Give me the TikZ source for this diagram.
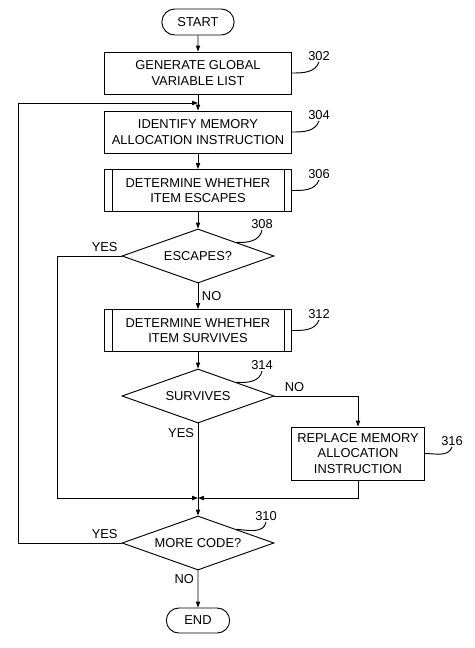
\documentclass[tikz,border=0pt]{standalone}
\usepackage{fontspec}
\setmainfont{Liberation Sans}
\usetikzlibrary{shapes.geometric, shapes.misc, arrows.meta, positioning}
\newcommand{\chartfont}{\fontsize{11}{13.3}\selectfont}
\tikzset{
  % Box styles
  termbox/.style={rounded rectangle, draw, line width=0.8pt, minimum width=2.31cm, minimum height=0.78cm, inner sep=2pt, font=\chartfont},
  procbox/.style={rectangle, draw, line width=0.8pt, minimum width=5.61cm, minimum height=1.26cm, inner sep=2pt, align=center, font=\chartfont},
  subbox/.style={procbox},
  decision/.style={diamond, draw, line width=0.8pt, minimum width=4.56cm, minimum height=1.62cm, aspect=2.8, inner sep=1pt, font=\chartfont},
  % Label styles
  refnum/.style={inner sep=1pt, font=\chartfont},
  flowlabel/.style={inner sep=3pt, font=\chartfont},
  % Arrow styles
  arrow/.style={-{Triangle[length=5pt, width=3.6pt]}, line width=0.8pt},
  line/.style={line width=0.8pt},
  leader/.style={line width=0.8pt}
}

\begin{document}
\begin{tikzpicture}[x=0.03cm, y=-0.03cm]
  \useasboundingbox (0,0) rectangle (474,648);

  % Main column
  \node[termbox] (start) at (198,22) {START};
  \node[procbox] (gen) at (198,73) {GENERATE GLOBAL\\VARIABLE LIST};
  \node[procbox] (ident) at (198,132) {IDENTIFY MEMORY\\ALLOCATION INSTRUCTION};
  \node[subbox] (esc) at (198,190.5) {DETERMINE WHETHER\\ITEM ESCAPES};
  \node[decision] (escq) at (198,256) {ESCAPES?};
  \node[subbox] (surv) at (198,330.5) {DETERMINE WHETHER\\ITEM SURVIVES};
  \node[decision] (survq) at (198,396) {SURVIVES};
  \node[procbox, minimum width=3.99cm, minimum height=1.59cm] (repl) at (358,453.5) {REPLACE MEMORY\\ALLOCATION\\INSTRUCTION};
  \node[decision] (more) at (198,543) {MORE CODE?};
  \node[termbox, minimum width=2.04cm, minimum height=0.75cm] (end) at (198,620.5) {END};

  % Side bars of the subroutine boxes
  \foreach \n in {esc, surv}{
    \draw[line] ([xshift=0.24cm]\n.north west) -- ([xshift=0.24cm]\n.south west);
    \draw[line] ([xshift=-0.24cm]\n.north east) -- ([xshift=-0.24cm]\n.south east);
  }

  % Reference numbers
  \node[refnum] (n302) at (319,56) {302};
  \node[refnum] (n304) at (319,115) {304};
  \node[refnum] (n306) at (319,174) {306};
  \node[refnum] (n308) at (262,224) {308};
  \node[refnum] (n312) at (319,314) {312};
  \node[refnum] (n314) at (262,365) {314};
  \node[refnum] (n316) at (452,441) {316};
  \node[refnum] (n310) at (266,516) {310};
  \draw[leader] (gen.east) to[out=0, in=-110] (n302.south);
  \draw[leader] (ident.east) to[out=0, in=-110] (n304.south);
  \draw[leader] (esc.east) to[out=0, in=-110] (n306.south);
  \draw[leader] (surv.east) to[out=0, in=-110] (n312.south);
  \draw[leader] (repl.east) to[out=0, in=-110] (n316.south);
  \draw[leader] (escq.north east) to[out=-5, in=-100] (n308.south);
  \draw[leader] (survq.north east) to[out=-5, in=-100] (n314.south);
  \draw[leader] (more.north east) to[out=-5, in=-100] (n310.south);

  % Main flow
  \draw[arrow] (start) -- (gen);
  \draw[arrow] (gen) -- (ident);
  \draw[arrow] (ident) -- (esc);
  \draw[arrow] (esc) -- (escq);
  \draw[arrow] (escq) -- node[flowlabel, right]{NO} (surv);
  \draw[arrow] (surv) -- (survq);
  \draw[arrow] (survq) -- node[flowlabel, left, pos=0.1]{YES} (more);
  \draw[arrow] (more) -- node[flowlabel, left, pos=0.24]{NO} (end);

  % Branches and loop back
  \coordinate (looptop) at (198,103);
  \coordinate (merge) at (198,498);
  \coordinate (escbend) at (57,256);
  \coordinate (morebend) at (18,543);
  \draw[arrow] (escq.west) -- node[flowlabel, above left, pos=0]{YES} (escbend) |- (merge);
  \draw[arrow] (survq.east) -| node[flowlabel, above, pos=0.12]{NO} (repl.north);
  \draw[arrow] (repl.south) |- (merge);
  \draw[arrow] (more.west) -- node[flowlabel, above left, pos=0]{YES} (morebend) |- (looptop);
\end{tikzpicture}
\end{document}
